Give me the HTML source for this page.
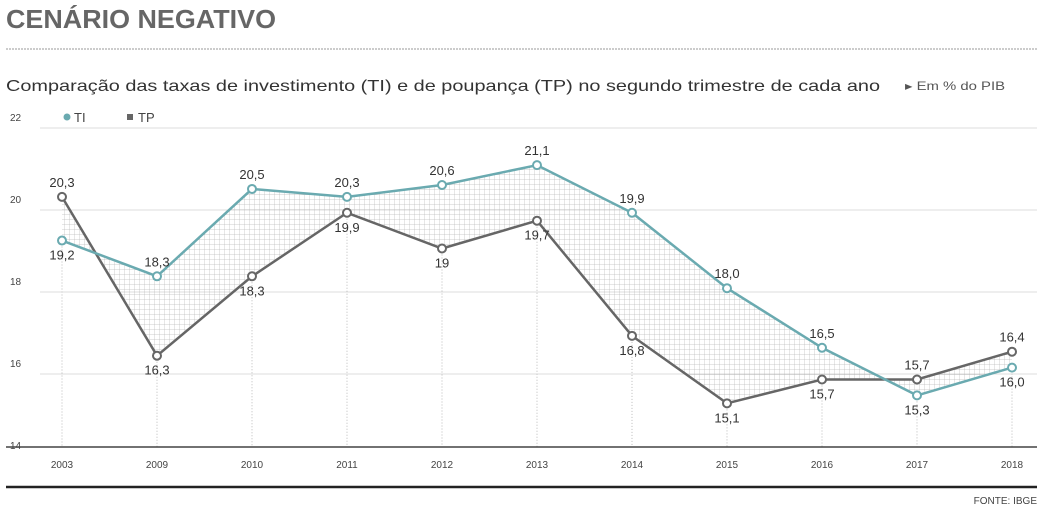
<!DOCTYPE html>
<html><head><meta charset="utf-8"><style>
body{margin:0;background:#fff;}
svg text{font-family:"Liberation Sans",sans-serif;}
</style></head><body>
<svg width="1043" height="513">
<defs>
<pattern id="grid" width="5" height="5" patternUnits="userSpaceOnUse">
<path d="M5 0V5M0 5H5" stroke="#aaa" stroke-width="0.7" fill="none"/>
</pattern>
</defs>
<text x="6" y="28" font-size="26" font-weight="bold" fill="#666" textLength="270" lengthAdjust="spacingAndGlyphs">CENÁRIO NEGATIVO</text>
<line x1="6" y1="49" x2="1037" y2="49" stroke="#999" stroke-dasharray="2,1"/>
<text x="6" y="91" font-size="16" fill="#333" textLength="874" lengthAdjust="spacingAndGlyphs">Comparação das taxas de investimento (TI) e de poupança (TP) no segundo trimestre de cada ano</text>
<text x="905" y="90" font-size="12" fill="#555" textLength="100" lengthAdjust="spacingAndGlyphs">▸ Em % do PIB</text>
<g>
<circle cx="67" cy="117" r="3.5" fill="#6aaab0"/><text x="74" y="122" font-size="13" fill="#444">TI</text>
<rect x="127" y="114" width="6" height="6" fill="#666"/><text x="138" y="122" font-size="13" fill="#444">TP</text>
</g>
<g id="axes"></g>
<g id="marks"></g>
<line x1="6" y1="487" x2="1037" y2="487" stroke="#222" stroke-width="2.5"/>
<text x="1037" y="504" font-size="10" fill="#444" text-anchor="end">FONTE: IBGE</text>
</svg>
<script>
const categories=["2003","2009","2010","2011","2012","2013","2014","2015","2016","2017","2018"];
const tiValues=[19.2,18.3,20.5,20.3,20.6,21.1,19.9,18.0,16.5,15.3,16.0];
const tpValues=[20.3,16.3,18.3,19.9,19,19.7,16.8,15.1,15.7,15.7,16.4];
const yTicks=[14,16,18,20,22];
const tiLabels=["19,2","18,3","20,5","20,3","20,6","21,1","19,9","18,0","16,5","15,3","16,0"];
const tpLabels=["20,3","16,3","18,3","19,9","19","19,7","16,8","15,1","15,7","15,7","16,4"];
const NS="http://www.w3.org/2000/svg";
const x=i=>62+i*95;
const y=v=>447-(v-14)*39.7;
const yg=v=>446-(v-14)*41;
function mk(t,a,p){const e=document.createElementNS(NS,t);for(const k in a)e.setAttribute(k,a[k]);p.appendChild(e);return e;}
const ax=document.getElementById('axes'),mg=document.getElementById('marks');
yTicks.forEach(v=>{
 if(v>14){const l=mk('line',{x1:40,x2:1037,y1:yg(v)+10,y2:yg(v)+10,stroke:'#ddd','stroke-width':1},ax);
 
 }
 const t=mk('text',{x:10,y:yg(v)+3,'font-size':10,fill:'#444'},ax);t.textContent=v;
 
 
});
categories.forEach((c,i)=>{
 const l=mk('line',{x1:x(i),x2:x(i),y1:Math.max(y(tiValues[i]),y(tpValues[i])),y2:447,stroke:'#bbb','stroke-dasharray':'1,2'},ax);
 
 
 const t=mk('text',{x:x(i),y:468,'font-size':10,fill:'#444','text-anchor':'middle'},ax);t.textContent=c;
 
 
});
const base=mk('line',{x1:6,x2:1037,y1:447,y2:447,stroke:'#444','stroke-width':1.5},ax);


let pts=tiValues.map((v,i)=>x(i)+','+y(v)).concat(tpValues.map((v,i)=>x(i)+','+y(v)).reverse());
const area=mk('polygon',{points:pts.join(' '),fill:'url(#grid)',opacity:0.8},mg);


[[tpValues,'#666','tp'],[tiValues,'#6aaab0','ti']].forEach(([vals,col,nm])=>{
 const p=mk('polyline',{points:vals.map((v,i)=>x(i)+','+y(v)).join(' '),fill:'none',stroke:col,'stroke-width':2.5},mg);
 
 
});
[[tpValues,'#666','tp',tpLabels,tiValues],[tiValues,'#6aaab0','ti',tiLabels,tpValues]].forEach(([vals,col,nm,lbl,other])=>{
 vals.forEach((v,i)=>{
  const c=mk('circle',{cx:x(i),cy:y(v),r:4,fill:'#fff',stroke:col,'stroke-width':2},mg);
  
  
  const above=v>=other[i];
  const t=mk('text',{x:x(i),y:above?y(v)-10:y(v)+19,'font-size':13,fill:'#333','text-anchor':'middle'},mg);
  t.textContent=lbl[i];
  
  
 });
});
</script>
</body></html>
